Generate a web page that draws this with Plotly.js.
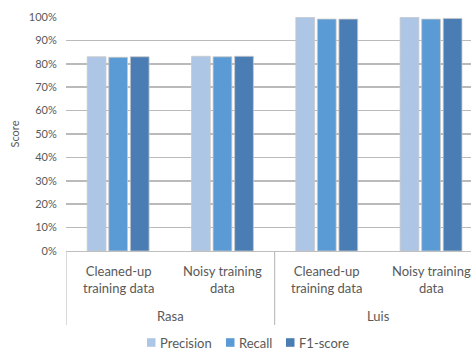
<!DOCTYPE html>
<html>
<head>
<meta charset="utf-8">
<script src="https://cdn.plot.ly/plotly-3.0.1.min.js"></script>
<style>html,body{margin:0;padding:0;background:#fff;}#chart{width:471px;height:351px;}</style>
</head>
<body>
<div id="chart"></div>
<script>
const groups = ["Rasa", "Rasa", "Luis", "Luis"];
const categories = ["Cleaned-up<br>training data", "Noisy training<br>data", "Cleaned-up<br>training data", "Noisy training<br>data"];
const seriesNames = ["Precision", "Recall", "F1-score"];
const precision = [0.830, 0.832, 0.999, 0.999];
const recall = [0.828, 0.830, 0.991, 0.991];
const f1 = [0.830, 0.832, 0.991, 0.994];
const colors = ["#aec6e6", "#5b9bd5", "#4a7db3"];

const ids = categories.map((c, i) => groups[i] + " / " + c.replace("<br>", " "));
const values = [precision, recall, f1];
const traces = values.map((v, i) => ({
  type: "bar",
  name: seriesNames[i],
  x: ids,
  y: v,
  marker: {color: colors[i], line: {color: "#c8c8c8", width: 0.8}},
  hoverinfo: "skip",
  showlegend: false
}));

const fam = "Lato, 'Open Sans', sans-serif";
const grey = "#595959";
const annotations = [];
const shapes = [];
// category labels
ids.forEach((id, i) => {
  annotations.push({xref: "x", yref: "paper", x: id, y: -0.121, yanchor: "middle", xanchor: "center",
    text: categories[i], showarrow: false, font: {family: fam, size: 13, color: grey}});
});
// group labels and dividers
const uniqueGroups = [...new Set(groups)];
uniqueGroups.forEach(g => {
  const idx = groups.map((gg, i) => gg === g ? i : -1).filter(i => i >= 0);
  const mid = (idx[0] + idx[idx.length - 1]) / 2;
  annotations.push({xref: "x", yref: "paper", x: mid, y: -0.278, yanchor: "middle", xanchor: "center",
    text: g, showarrow: false, font: {family: fam, size: 13, color: grey}});
  shapes.push({type: "line", xref: "x", yref: "paper", x0: idx[0] - 0.5, x1: idx[0] - 0.5, y0: 0, y1: -0.316,
    line: {color: "#bfbfbf", width: 1.2}});
});
// legend (manual)
const legX = [147, 226, 286];
const legY = 342.5;
seriesNames.forEach((n, i) => {
  shapes.push({type: "rect", xref: "paper", yref: "paper",
    x0: (legX[i] - 66) / 405, x1: (legX[i] + 8.5 - 66) / 405,
    y0: -(legY + 4.3 - 251) / 234, y1: -(legY - 4.3 - 251) / 234,
    fillcolor: colors[i], line: {width: 0}});
  annotations.push({xref: "paper", yref: "paper", x: (legX[i] + 11 - 66) / 405, y: -(legY - 251) / 234,
    xanchor: "left", yanchor: "middle", text: n, showarrow: false,
    font: {family: fam, size: 13, color: grey}});
});

const layout = {
  width: 471, height: 351,
  margin: {l: 66, r: 0, t: 17, b: 100, pad: 0},
  paper_bgcolor: "#fff", plot_bgcolor: "#fff",
  font: {family: fam, color: grey, size: 11},
  barmode: "group",
  bargap: 0.38,
  bargroupgap: 0.13,
  showlegend: false,
  annotations: annotations,
  shapes: shapes,
  xaxis: {
    type: "category",
    range: [-0.5, 3.383],
    automargin: false,
    showgrid: false,
    showticklabels: false,
    showline: true, linecolor: "#bfbfbf", linewidth: 1.2,
    ticks: ""
  },
  yaxis: {
    range: [0, 1.0],
    dtick: 0.1,
    tickformat: ".0%",
    automargin: false,
    showgrid: true, gridcolor: "#bababa", gridwidth: 1.6,
    zeroline: false,
    showline: false,
    ticks: "outside", ticklen: 6, tickcolor: "rgba(0,0,0,0)",
    tickfont: {family: fam, color: grey, size: 11},
    title: {text: "Score", font: {family: fam, color: grey, size: 11}, standoff: 6}
  }
};
Plotly.newPlot("chart", traces, layout, {staticPlot: true, displayModeBar: false});
</script>
</body>
</html>
